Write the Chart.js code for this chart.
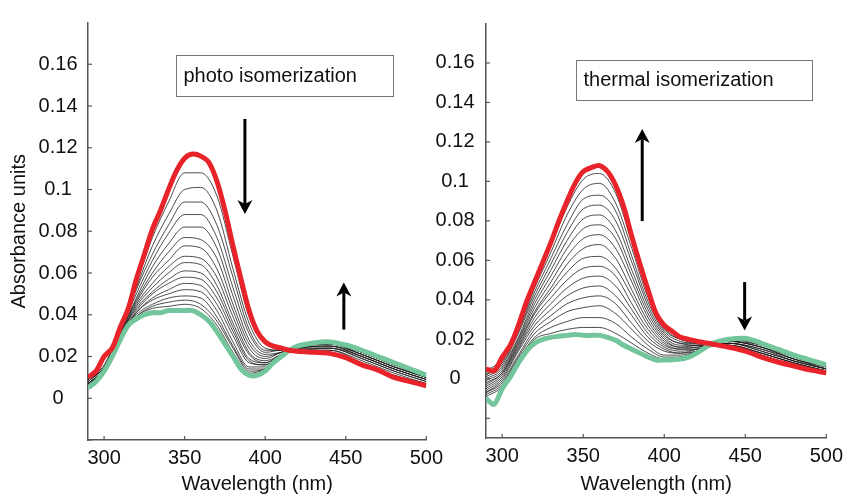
<!DOCTYPE html>
<html>
<head>
<meta charset="utf-8">
<script src="https://cdn.jsdelivr.net/npm/chart.js@4.4.0/dist/chart.umd.min.js"></script>
<style>
  body { margin: 0; background: #fff; }
  #wrap { position: relative; width: 849px; height: 494px; overflow: hidden; }
  .panel { position: absolute; top: 0; }
  #left { left: 0; }
  #right { left: 420px; }
</style>
</head>
<body>
<div id="wrap">
  <div class="panel" id="left"><canvas id="photoChart" width="449" height="494"></canvas></div>
  <div class="panel" id="right"><canvas id="thermalChart" width="429" height="494"></canvas></div>
</div>
<script>
// wavelengths (nm)
const wlFine = [290,295,300,305,310,315,320,325,330,335,340,345,350,355,360,365,370,375,380,385,390,395,400,405,410,415,420,430,440,450,460,470,480,490,500]
const wlGrid = [290,300,310,320,330,340,350,360,370,380,390,400,410,420,440,460,480,500]

const xTicks = [300, 350, 400, 450, 500]
const yTicks = [-0.02, 0, 0.02, 0.04, 0.06, 0.08, 0.1, 0.12, 0.14, 0.16]

// photo isomerization: red = first spectrum, green = last
const photoRed = [0.010,0.013,0.020,0.024,0.034,0.043,0.057,0.069,0.081,0.090,0.100,0.109,0.115,0.117,0.116,0.113,0.104,0.090,0.073,0.057,0.042,0.032,0.027,0.025,0.024,0.023,0.0225,0.022,0.0215,0.0195,0.016,0.0135,0.010,0.008,0.006]
const photoGreen = [0.005,0.008,0.013,0.020,0.028,0.035,0.038,0.040,0.041,0.041,0.042,0.042,0.042,0.042,0.040,0.037,0.032,0.026,0.020,0.014,0.011,0.011,0.013,0.017,0.020,0.023,0.025,0.0265,0.027,0.0255,0.023,0.020,0.017,0.014,0.011]
const photoMid = [
  [0.009,0.016,0.033,0.055,0.077,0.094,0.108,0.108,0.097,0.068,0.039,0.026,0.024,0.023,0.022,0.017,0.011,0.007],
  [0.009,0.015,0.033,0.053,0.073,0.088,0.100,0.101,0.090,0.062,0.036,0.024,0.023,0.023,0.023,0.017,0.011,0.007],
  [0.009,0.015,0.032,0.052,0.069,0.083,0.094,0.094,0.083,0.058,0.033,0.023,0.023,0.023,0.023,0.018,0.012,0.007],
  [0.008,0.015,0.032,0.050,0.066,0.079,0.088,0.088,0.077,0.053,0.031,0.022,0.023,0.023,0.024,0.019,0.013,0.008],
  [0.008,0.015,0.031,0.048,0.063,0.074,0.082,0.082,0.072,0.049,0.028,0.021,0.022,0.024,0.024,0.019,0.013,0.008],
  [0.007,0.014,0.031,0.047,0.060,0.070,0.077,0.076,0.067,0.045,0.026,0.020,0.022,0.024,0.024,0.020,0.014,0.009],
  [0.007,0.014,0.031,0.046,0.058,0.066,0.073,0.072,0.062,0.042,0.024,0.019,0.022,0.024,0.025,0.020,0.014,0.009],
  [0.007,0.014,0.030,0.045,0.055,0.063,0.068,0.067,0.058,0.039,0.022,0.018,0.021,0.024,0.025,0.020,0.014,0.009],
  [0.007,0.014,0.030,0.044,0.053,0.060,0.065,0.064,0.054,0.036,0.021,0.017,0.021,0.024,0.025,0.021,0.015,0.010],
  [0.006,0.014,0.030,0.043,0.051,0.057,0.061,0.060,0.051,0.034,0.019,0.017,0.021,0.024,0.026,0.021,0.015,0.010],
  [0.006,0.014,0.029,0.042,0.050,0.055,0.058,0.057,0.048,0.032,0.018,0.016,0.021,0.025,0.026,0.021,0.015,0.010],
  [0.006,0.014,0.029,0.041,0.048,0.052,0.055,0.054,0.045,0.030,0.017,0.016,0.021,0.025,0.026,0.022,0.016,0.010],
  [0.006,0.013,0.029,0.041,0.047,0.050,0.052,0.051,0.042,0.027,0.015,0.015,0.021,0.025,0.026,0.022,0.016,0.010],
  [0.006,0.013,0.029,0.040,0.045,0.048,0.049,0.048,0.039,0.025,0.014,0.014,0.020,0.025,0.026,0.022,0.016,0.011],
  [0.005,0.013,0.028,0.039,0.044,0.046,0.047,0.045,0.037,0.024,0.013,0.014,0.020,0.025,0.027,0.022,0.016,0.011],
  [0.005,0.013,0.028,0.039,0.043,0.044,0.045,0.043,0.035,0.022,0.012,0.014,0.020,0.025,0.027,0.023,0.017,0.011]
]

// thermal isomerization: green = first spectrum, red = last
const thermalRed = [0.005,0.004,0.011,0.017,0.027,0.039,0.049,0.059,0.069,0.080,0.090,0.099,0.105,0.107,0.108,0.105,0.098,0.087,0.072,0.058,0.045,0.033,0.027,0.024,0.021,0.020,0.019,0.0175,0.016,0.014,0.011,0.0085,0.0065,0.0045,0.003]
const thermalGreen = [-0.010,-0.013,-0.005,0.001,0.008,0.014,0.018,0.020,0.021,0.0215,0.022,0.0225,0.022,0.022,0.022,0.021,0.0195,0.017,0.015,0.013,0.011,0.0095,0.0095,0.0097,0.010,0.011,0.013,0.018,0.020,0.0205,0.018,0.015,0.012,0.0095,0.007]
const thermalMid = [
  [0.004,0.010,0.026,0.047,0.067,0.087,0.101,0.104,0.094,0.069,0.043,0.026,0.020,0.019,0.016,0.011,0.007,0.003],
  [0.003,0.009,0.025,0.046,0.064,0.083,0.096,0.099,0.089,0.066,0.041,0.025,0.020,0.018,0.016,0.012,0.007,0.003],
  [0.002,0.008,0.024,0.044,0.061,0.078,0.091,0.093,0.085,0.062,0.039,0.024,0.019,0.018,0.017,0.012,0.007,0.004],
  [0.002,0.007,0.023,0.042,0.058,0.074,0.086,0.088,0.080,0.059,0.037,0.023,0.018,0.018,0.017,0.013,0.008,0.004],
  [0.001,0.006,0.021,0.040,0.055,0.070,0.081,0.083,0.075,0.055,0.035,0.022,0.018,0.017,0.017,0.013,0.008,0.004],
  [0.000,0.005,0.020,0.038,0.052,0.066,0.076,0.078,0.071,0.052,0.033,0.021,0.017,0.017,0.017,0.013,0.008,0.004],
  [-0.001,0.004,0.019,0.036,0.049,0.062,0.071,0.073,0.066,0.049,0.031,0.020,0.016,0.017,0.018,0.014,0.009,0.005],
  [-0.002,0.003,0.018,0.034,0.046,0.058,0.066,0.068,0.061,0.045,0.029,0.019,0.016,0.016,0.018,0.014,0.009,0.005],
  [-0.003,0.003,0.017,0.033,0.044,0.054,0.061,0.062,0.056,0.042,0.027,0.018,0.015,0.016,0.018,0.015,0.009,0.005],
  [-0.004,0.002,0.016,0.031,0.041,0.050,0.056,0.057,0.052,0.038,0.025,0.017,0.015,0.015,0.018,0.015,0.010,0.005],
  [-0.005,0.001,0.015,0.029,0.038,0.046,0.051,0.052,0.047,0.035,0.023,0.016,0.014,0.015,0.019,0.016,0.010,0.006],
  [-0.006,0.000,0.014,0.027,0.035,0.042,0.046,0.047,0.042,0.032,0.021,0.015,0.013,0.015,0.019,0.016,0.010,0.006],
  [-0.007,-0.001,0.012,0.025,0.032,0.038,0.041,0.042,0.038,0.028,0.019,0.014,0.013,0.014,0.019,0.016,0.011,0.006],
  [-0.007,-0.002,0.011,0.023,0.029,0.034,0.036,0.037,0.033,0.025,0.017,0.012,0.012,0.014,0.019,0.017,0.011,0.006],
  [-0.008,-0.003,0.010,0.021,0.026,0.029,0.031,0.031,0.028,0.021,0.015,0.011,0.011,0.014,0.020,0.017,0.011,0.007],
  [-0.009,-0.004,0.009,0.020,0.023,0.025,0.026,0.026,0.023,0.018,0.013,0.010,0.011,0.013,0.020,0.018,0.012,0.007]
]

const RED = '#e8232a'
const GREEN = '#73c59c'
const MID = 'rgba(20,20,20,0.85)'
const AXIS = '#555'
const FONT = '"Liberation Sans", Arial, sans-serif'

Chart.defaults.font.family = FONT
Chart.defaults.font.size = 20
Chart.defaults.color = '#111'

const toPts = (xs, ys) => xs.map((x, i) => ({ x: x, y: ys[i] }))

// short tick marks pointing into the plot
const innerTicks = {
  id: 'innerTicks',
  afterDraw(chart) {
    const { ctx, scales: { x, y } } = chart
    ctx.save()
    ctx.strokeStyle = AXIS
    ctx.lineWidth = 1.2
    x.ticks.forEach(t => {
      const px = x.getPixelForValue(t.value)
      ctx.beginPath(); ctx.moveTo(px, x.top); ctx.lineTo(px, x.top - 4); ctx.stroke()
    })
    y.ticks.forEach(t => {
      const py = y.getPixelForValue(t.value)
      ctx.beginPath(); ctx.moveTo(y.right, py); ctx.lineTo(y.right + 4, py); ctx.stroke()
    })
    ctx.restore()
  }
}

const drawArrow = (ctx, x, y0, y1) => {
  const dir = y1 > y0 ? 1 : -1
  const head = 14, half = 7.5, notch = 4
  ctx.beginPath()
  ctx.moveTo(x, y0)
  ctx.lineTo(x, y1 - dir * (head - notch))
  ctx.stroke()
  ctx.beginPath()
  ctx.moveTo(x, y1)
  ctx.lineTo(x - half, y1 - dir * head)
  ctx.lineTo(x, y1 - dir * (head - notch))
  ctx.lineTo(x + half, y1 - dir * head)
  ctx.closePath()
  ctx.fill()
}

// label box and arrows, placed in data units
const notes = {
  id: 'notes',
  afterDatasetsDraw(chart, args, opts) {
    const { ctx, scales: { x, y } } = chart
    const b = opts.box
    const bx0 = Math.round(x.getPixelForValue(b.x0)) + 0.5
    const bx1 = Math.round(x.getPixelForValue(b.x1)) + 0.5
    const by0 = Math.round(y.getPixelForValue(b.y0)) + 0.5
    const by1 = Math.round(y.getPixelForValue(b.y1)) + 0.5
    ctx.save()
    ctx.strokeStyle = '#777'
    ctx.lineWidth = 1
    ctx.strokeRect(bx0, by0, bx1 - bx0, by1 - by0)
    ctx.fillStyle = '#111'
    ctx.font = '20px ' + FONT
    ctx.textBaseline = 'middle'
    ctx.fillText(b.text, bx0 + 7, (by0 + by1) / 2)
    ctx.strokeStyle = '#000'
    ctx.fillStyle = '#000'
    ctx.lineWidth = 3
    opts.arrows.forEach(a => {
      drawArrow(ctx, x.getPixelForValue(a.x), y.getPixelForValue(a.from), y.getPixelForValue(a.to))
    })
    ctx.restore()
  }
}

const makeChart = (id, c) => {
  const datasets = [
    { data: toPts(wlFine, c.red), borderColor: RED, borderWidth: 5, pointRadius: 0, tension: 0.3 },
    { data: toPts(wlFine, c.green), borderColor: GREEN, borderWidth: 5, pointRadius: 0, tension: 0.3 }
  ]
  c.mid.forEach(s => {
    datasets.push({ data: toPts(wlGrid, s), borderColor: MID, borderWidth: 0.9, pointRadius: 0, cubicInterpolationMode: 'monotone' })
  })

  return new Chart(document.getElementById(id), {
    type: 'line',
    data: { datasets: datasets },
    options: {
      responsive: false,
      animation: false,
      events: [],
      layout: { padding: c.pad },
      plugins: {
        legend: { display: false },
        tooltip: { enabled: false },
        notes: { box: c.box, arrows: c.arrows }
      },
      scales: {
        x: {
          type: 'linear',
          min: 290,
          max: 500,
          afterBuildTicks: s => { s.ticks = xTicks.map(v => ({ value: v })) },
          afterFit: s => { s.height = c.xh },
          grid: { display: false, drawTicks: false },
          border: { display: true, color: AXIS, width: 1.5 },
          ticks: { padding: 6, maxRotation: 0, autoSkip: false },
          title: { display: true, text: 'Wavelength (nm)', font: { size: 20, lineHeight: 1 }, padding: { top: 0, bottom: 0 } }
        },
        y: {
          type: 'linear',
          min: c.ymin,
          max: 0.18,
          afterBuildTicks: s => { s.ticks = yTicks.map(v => ({ value: v })) },
          afterFit: s => { s.width = c.yw },
          grid: { display: false, drawTicks: false },
          border: { display: true, color: AXIS, width: 1.5 },
          ticks: {
            padding: c.ypad,
            crossAlign: 'center',
            autoSkip: false,
            callback: v => v < -0.001 ? '' : String(+v.toFixed(2))
          },
          title: { display: c.ytitle, text: 'Absorbance units', font: { size: 20 }, padding: { top: 7, bottom: 0 } }
        }
      }
    },
    plugins: [innerTicks, notes]
  })
}

makeChart('photoChart', {
  red: photoRed, green: photoGreen, mid: photoMid,
  ymin: -0.02, yw: 88, xh: 54, ypad: 10.5, ytitle: true,
  pad: { top: 14, right: 19, bottom: 0, left: 0 },
  box: { x0: 344.4, x1: 479.5, y0: 0.1645, y1: 0.145, text: 'photo isomerization' },
  arrows: [
    { x: 387.4, from: 0.1338, to: 0.0883 },
    { x: 448.8, from: 0.0329, to: 0.0554 }
  ]
})

makeChart('thermalChart', {
  red: thermalRed, green: thermalGreen, mid: thermalMid,
  ymin: -0.03, yw: 66, xh: 56, ypad: 11.5, ytitle: false,
  pad: { top: 12, right: 18, bottom: 0, left: 0 },
  box: { x0: 345.4, x1: 491, y0: 0.1613, y1: 0.1412, text: 'thermal isomerization' },
  arrows: [
    { x: 386.4, from: 0.0799, to: 0.1265 },
    { x: 449.6, from: 0.049, to: 0.0245 }
  ]
})
</script>
</body>
</html>
